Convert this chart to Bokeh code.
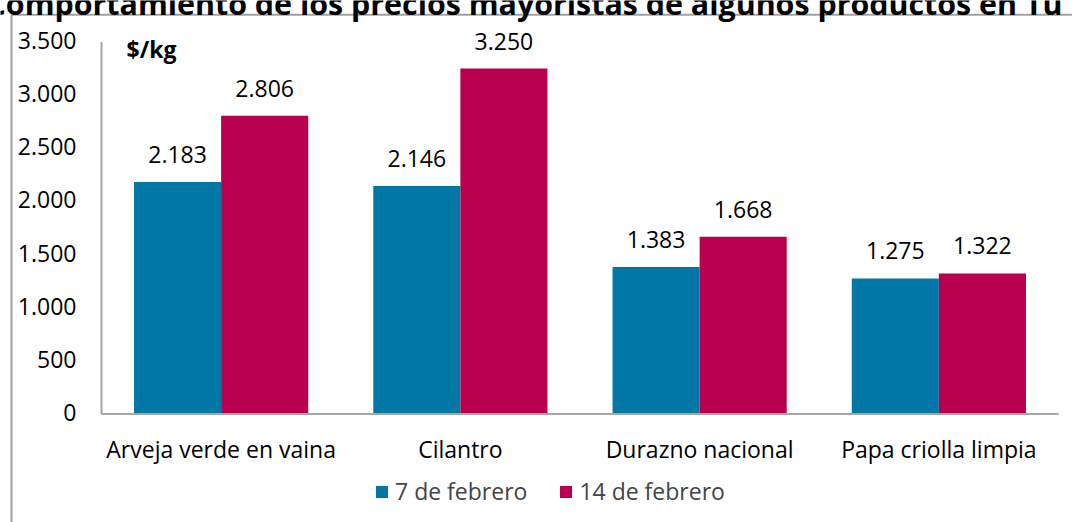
from bokeh.plotting import figure
from bokeh.models import (ColumnDataSource, Label, Legend, LegendItem,
                          LabelSet, Range1d)
from bokeh.core.properties import value
from bokeh.embed import file_html
from bokeh.resources import INLINE

categories = ["Arveja verde en vaina", "Cilantro", "Durazno nacional", "Papa criolla limpia"]
feb7 = [2183, 2146, 1383, 1275]
feb14 = [2806, 3250, 1668, 1322]
series_names = ["7 de febrero", "14 de febrero"]
y_ticks = [0, 500, 1000, 1500, 2000, 2500, 3000, 3500]
y_tick_labels = ["0", "500", "1.000", "1.500", "2.000", "2.500", "3.000", "3.500"]
title_text = "Comportamiento de los precios mayoristas de algunos productos en Tu"
unit_text = "$/kg"

BLUE = "#0077A4"
RED = "#B8004E"
AXIS_GRAY = "#A6A6A6"
BORDER_GRAY = "#A0A0A0"
FONT = "Open Sans"
FS = "23px"

W, H = 1072, 522
# plot-area geometry (pixels inside the canvas)
PX_LEFT, PX_RIGHT = 101, 1058
PX_ZERO, PX_TOP = 413.5, 41.5
# chart-area border (pixels)
BORDER_LEFT, BORDER_TOP = 11, 14.3

n = len(categories)
ymax = y_ticks[-1]
xs_per_px = n / (PX_RIGHT - PX_LEFT)
ys_per_px = ymax / (PX_ZERO - PX_TOP)
x_range = Range1d(-PX_LEFT * xs_per_px, n + (W - PX_RIGHT) * xs_per_px)
y_range = Range1d(-(H - PX_ZERO) * ys_per_px, PX_ZERO * ys_per_px)


def fmt(v):
    return f"{v:,}".replace(",", ".")


off = 0.182
bw = 0.364
pos = [i + 0.5 for i in range(n)]
src = ColumnDataSource(dict(
    cat=categories, pos=pos,
    xa=[x - off for x in pos], xb=[x + off for x in pos],
    a=feb7, b=feb14,
    la=[fmt(v) for v in feb7], lb=[fmt(v) for v in feb14],
    zero=[0] * n,
))

p = figure(x_range=x_range, y_range=y_range, width=W, height=H,
           output_backend="svg", toolbar_location=None,
           x_axis_location=None, y_axis_location=None,
           min_border=0)
p.outline_line_color = None
p.grid.visible = False

# chart-area border (left and top edges)
bx = (BORDER_LEFT - PX_LEFT) * xs_per_px
by = (PX_ZERO - BORDER_TOP) * ys_per_px
p.segment(x0=[bx, bx], y0=[by, by], x1=[x_range.end, bx], y1=[by, y_range.start],
          line_color=BORDER_GRAY, line_width=2)

r1 = p.vbar(x="xa", top="a", width=bw, source=src, fill_color=BLUE, line_color=None)
r2 = p.vbar(x="xb", top="b", width=bw, source=src, fill_color=RED, line_color=None)

# value labels
for xc, col, lab in (("xa", "a", "la"), ("xb", "b", "lb")):
    p.add_layout(LabelSet(x=xc, y=col, text=lab, source=src,
                          text_align="center", text_baseline="alphabetic", y_offset=19,
                          text_font=value(FONT), text_font_size=value(FS),
                          text_color="#000000"))

# axis lines
p.segment(x0=[0], y0=[y_ticks[0]], x1=[0], y1=[ymax], line_color=AXIS_GRAY, line_width=2)
p.segment(x0=[0], y0=[0], x1=[n], y1=[0], line_color=AXIS_GRAY, line_width=2)

# y tick labels
tsrc = ColumnDataSource(dict(x=[0] * len(y_ticks), y=y_ticks, t=y_tick_labels))
p.add_layout(LabelSet(x="x", y="y", text="t", source=tsrc, x_offset=-25, y_offset=-7,
                      text_align="right", text_baseline="alphabetic",
                      text_font=value(FONT), text_font_size=value(FS), text_color="#000000"))

# category labels
p.add_layout(LabelSet(x="pos", y="zero", text="cat", source=src, y_offset=-44,
                      text_align="center", text_baseline="alphabetic",
                      text_font=value(FONT), text_font_size=value(FS), text_color="#000000"))

# unit label
p.add_layout(Label(x=126, y=H - 48, x_units="screen", y_units="screen", text=unit_text,
                   text_font=FONT, text_font_size=FS, text_font_style="bold",
                   text_baseline="alphabetic", text_color="#000000"))

# title (cut at the top like the reference)
p.add_layout(Label(x=-14, y=H - 2.5, x_units="screen", y_units="screen", text=title_text,
                   text_font=FONT, text_font_size="30.4px", text_font_style="bold",
                   text_baseline="alphabetic", text_color="#000000"))

legend = Legend(items=[LegendItem(label=series_names[0], renderers=[r1]),
                       LegendItem(label=series_names[1], renderers=[r2])],
                orientation="horizontal", location=(374, 15),
                padding=0, margin=0, spacing=31, label_standoff=6,
                glyph_width=15, glyph_height=15, label_height=20,
                label_text_font=FONT, label_text_font_size=FS,
                border_line_color=None, background_fill_alpha=0)
p.add_layout(legend)

open("out.html", "w").write(file_html(p, INLINE))
